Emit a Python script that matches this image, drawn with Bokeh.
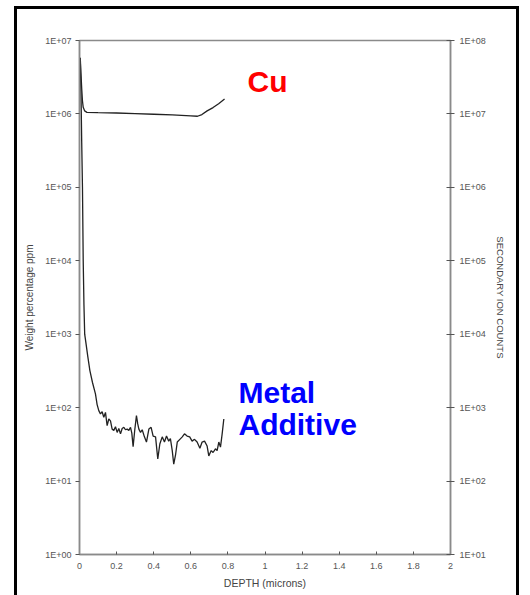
from bokeh.plotting import figure
from bokeh.models import (LogAxis, Range1d, FixedTicker, CustomJSTickFormatter,
                          Label, LogScale, InlineStyleSheet)
from bokeh.embed import file_html
from bokeh.resources import INLINE

# ---------------- data ----------------
depth_cu = [0.004, 0.008, 0.012, 0.016, 0.020, 0.028, 0.040, 0.10, 0.20, 0.30,
            0.40, 0.50, 0.60, 0.636, 0.66, 0.688, 0.72, 0.75, 0.782]
cu_ppm = [5.8e6, 3.5e6, 2.2e6, 1.5e6, 1.23e6, 1.1e6, 1.05e6, 1.04e6, 1.03e6, 1.01e6,
          0.99e6, 0.97e6, 0.94e6, 0.93e6, 0.98e6, 1.1e6, 1.22e6, 1.38e6, 1.6e6]

depth_add = [0.004, 0.008, 0.012, 0.016, 0.020, 0.024, 0.028, 0.035, 0.045, 0.056,
             0.070, 0.086, 0.095, 0.104, 0.113, 0.122, 0.131, 0.140, 0.149, 0.158,
             0.167, 0.176, 0.185, 0.194, 0.203, 0.212, 0.221, 0.230, 0.239, 0.248,
             0.257, 0.266, 0.275, 0.282, 0.289, 0.298, 0.307, 0.314, 0.320, 0.329,
             0.338, 0.350, 0.361, 0.374, 0.386, 0.397, 0.410, 0.422, 0.433, 0.446,
             0.458, 0.469, 0.481, 0.490, 0.500, 0.508, 0.518, 0.527, 0.541, 0.554,
             0.566, 0.580, 0.594, 0.607, 0.620, 0.634, 0.649, 0.661, 0.674, 0.688,
             0.697, 0.710, 0.720, 0.733, 0.742, 0.751, 0.760, 0.769, 0.778]
additive_ppm = [5.8e6, 2e6, 4e5, 1e5, 1e4, 2.5e3, 1e3, 750, 490, 320,
                220, 154, 110, 91, 82, 88, 74, 86, 57, 70,
                66, 51, 49, 55, 46, 52, 44, 52, 54, 50,
                51, 49, 54, 45, 29.5, 50, 78, 60, 51, 46,
                50, 40, 34, 51, 54, 41, 40, 20, 32, 40,
                34, 41, 35, 38, 26, 17, 23, 34, 37, 40,
                44, 41, 40, 35, 37, 34, 28, 34, 35, 30,
                22, 26, 24.5, 27.5, 26, 34, 29, 44, 70]

x_ticks = [0, 0.2, 0.4, 0.6, 0.8, 1.0, 1.2, 1.4, 1.6, 1.8, 2.0]
left_ticks = [1, 10, 100, 1e3, 1e4, 1e5, 1e6, 1e7]
right_ticks = [10, 100, 1e3, 1e4, 1e5, 1e6, 1e7, 1e8]

FONT = "Liberation Sans"
AXIS_COL = "#8a8a8a"
LABEL_COL = "#555555"

p = figure(width=530, height=595, x_range=Range1d(0, 2), y_range=Range1d(1, 1e7),
           y_axis_type="log", output_backend="svg", toolbar_location=None,
           min_border_left=79, min_border_right=80, min_border_top=40,
           min_border_bottom=41)
p.grid.visible = False
p.outline_line_color = AXIS_COL
p.outline_line_width = 1.5
p.background_fill_color = "white"
p.border_fill_color = "white"

fmt = CustomJSTickFormatter(code="""
const e = Math.round(Math.log10(tick));
return '1E+' + (e < 10 ? '0' : '') + e;
""")

# left axis
ly = p.yaxis[0]
ly.ticker = FixedTicker(ticks=left_ticks)
ly.formatter = fmt
ly.axis_label = "Weight percentage ppm"

# right axis
p.extra_y_ranges = {"ions": Range1d(10, 1e8)}
p.extra_y_scales = {"ions": LogScale()}
ry = LogAxis(y_range_name="ions", ticker=FixedTicker(ticks=right_ticks), formatter=fmt,
             axis_label="SECONDARY ION COUNTS")
p.add_layout(ry, "right")

# x axis
xa = p.xaxis[0]
xa.ticker = FixedTicker(ticks=x_ticks)
xa.axis_label = "DEPTH (microns)"

for ax in (ly, ry, xa):
    ax.axis_line_color = AXIS_COL
    ax.axis_line_width = 1.5
    ax.major_tick_line_color = "#555555"
    ax.minor_tick_line_color = None
    ax.major_label_text_font = FONT
    ax.major_label_text_font_size = "9px"
    ax.major_label_text_color = LABEL_COL
    ax.axis_label_text_font = FONT
    ax.axis_label_text_font_style = "normal"
    ax.axis_label_text_color = "#444444"

ly.axis_label_text_font_size = "10px"
ry.axis_label_text_font_size = "9.5px"
xa.axis_label_text_font_size = "10.5px"

ly.major_tick_out = 4
ly.major_tick_in = 0
ly.major_label_standoff = 4
ly.axis_label_standoff = 7
ry.major_tick_out = 4
ry.major_tick_in = 4
ry.major_label_standoff = 5
ry.axis_label_standoff = 6
ry.major_label_orientation = "horizontal"
xa.major_tick_out = 0
xa.major_tick_in = 3
xa.major_label_standoff = 8
xa.axis_label_standoff = 5

# curves
p.line(depth_cu, cu_ppm, line_color="#222222", line_width=1.3)
p.line(depth_add, additive_ppm, line_color="#222222", line_width=1.3)

# annotations
p.add_layout(Label(x=0.906, y=2.75e6, text="Cu", text_color="#ff0000",
                   text_font=FONT, text_font_style="bold", text_font_size="30px",
                   text_baseline="alphabetic"))
p.add_layout(Label(x=0.857, y=161, text="Metal", text_color="#0000ff",
                   text_font=FONT, text_font_style="bold", text_font_size="30px",
                   text_baseline="alphabetic"))
p.add_layout(Label(x=0.857, y=59, text="Additive", text_color="#0000ff",
                   text_font=FONT, text_font_style="bold", text_font_size="30px",
                   text_baseline="alphabetic"))

# outer black frame of the scanned page (open at the bottom)
p.stylesheets = [InlineStyleSheet(css="""
:host { overflow: hidden; }
:host::after {
  content: ''; position: absolute; left: 14px; top: 6px;
  width: 505px; height: 640px; border: 3px solid black;
  box-sizing: border-box; pointer-events: none; z-index: 10;
}
""")]

open("out.html", "w").write(file_html(p, INLINE))
